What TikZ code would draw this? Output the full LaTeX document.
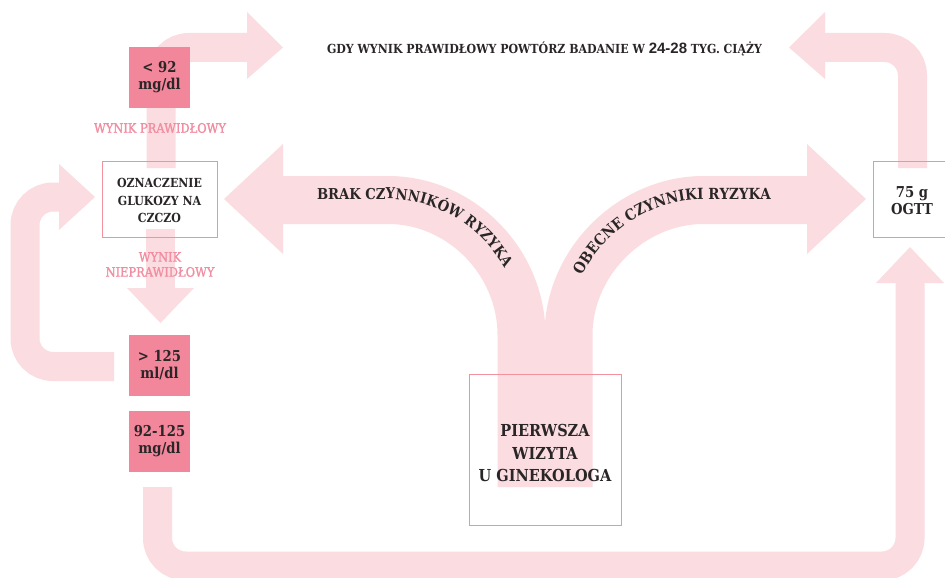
\documentclass[tikz,border=0pt]{standalone}
\usepackage{fontspec}
\setmainfont{DejaVu Serif}[FakeStretch=0.88]
\newfontfamily\semifont{DejaVu Serif}[FakeStretch=0.88,FakeBold=1.2]
\newfontfamily\numfont{Liberation Sans}
\usetikzlibrary{decorations.text}
\definecolor{arrowpink}{HTML}{FBDDE1}
\definecolor{boxpink}{HTML}{F2879C}
\definecolor{linepink}{HTML}{F4919F}
\definecolor{labelpink}{HTML}{F28CA0}
\definecolor{darktext}{HTML}{2A2627}
\begin{document}
\begin{tikzpicture}[x=1pt,y=-1pt,
  thickbar/.style={draw=arrowpink,line width=29pt,rounded corners=28pt},
  bighead/.style={fill=arrowpink},
  widebar/.style={draw=arrowpink,line width=48pt},
  valbox/.style={fill=boxpink,minimum width=61pt,minimum height=61pt,inner sep=0pt,align=center,text=darktext,font=\fontsize{15}{17}\selectfont\bfseries},
  framebox/.style={draw=linepink,line width=1pt,inner sep=0pt,align=center,text=darktext},
  boxtext/.style={inner sep=0pt,align=center,text=darktext},
  pinklabel/.style={text=labelpink,align=center,inner sep=0pt,font=\semifont\fontsize{13}{15}\selectfont},
  curvetext/.style={decorate,decoration={text along path,text color=darktext,raise=1pt}}
]
\fill[white] (0,0) rectangle (945,578);
\useasboundingbox (0,0) rectangle (945,578);

% coordinates
\coordinate (a1s) at (161,168);   \coordinate (a1c) at (161,47.5);  \coordinate (a1e) at (248,47.5);
\coordinate (a2s) at (160.5,229); \coordinate (a2e) at (160.5,289);
\coordinate (a3s) at (114,366.5); \coordinate (a3c1) at (25,366.5); \coordinate (a3c2) at (25,197); \coordinate (a3e) at (60,197);
\coordinate (a4s) at (157.5,487); \coordinate (a4c1) at (157.5,566); \coordinate (a4c2) at (910,566); \coordinate (a4e) at (910,282);
\coordinate (a5s) at (912.5,168); \coordinate (a5c) at (912.5,47.5); \coordinate (a5e) at (824,47.5);

% thin arrows
\draw[thickbar] (a1s) -- (a1c) -- (a1e);
\fill[bighead] (247,12) -- (283,47.5) -- (247,79) -- cycle;
\draw[thickbar] (a2s) -- (a2e);
\fill[bighead] (127,288) -- (160.5,323) -- (194,288) -- cycle;
\draw[thickbar] (a3s) -- (a3c1) -- (a3c2) -- (a3e);
\fill[bighead] (59,164) -- (95,197) -- (59,230) -- cycle;
\draw[thickbar] (a4s) -- (a4c1) -- (a4c2) -- (a4e);
\fill[bighead] (876,283) -- (910,247) -- (944,283) -- cycle;
\draw[thickbar] (a5s) -- (a5c) -- (a5e);
\fill[bighead] (825,12) -- (789,47.5) -- (825,79) -- cycle;

% wide curved arrows
\draw[widebar] (521.5,487) -- (521.5,335) .. controls (521.5,262) and (461,200) .. (388,200) -- (282,200);
\fill[bighead] (283,144) -- (224,199) -- (283,254) -- cycle;
\draw[widebar] (568.5,487) -- (568.5,335) .. controls (568.5,262) and (631.5,200) .. (703.5,200) -- (808,200);
\fill[bighead] (807,144) -- (866,199) -- (807,254) -- cycle;

\path[curvetext,decoration={text={|\fontsize{15}{15}\selectfont\bfseries|BRAK CZYNNIKÓW RYZYKA},text align=left}]
  (317,200) -- (388,200) .. controls (461,200) and (521.5,262) .. (521.5,335);
\path[curvetext,decoration={text={|\fontsize{15.3}{15}\selectfont\bfseries|OBECNE CZYNNIKI RYZYKA},text align={left indent=61pt}}]
  (568.5,335) .. controls (568.5,262) and (631.5,200) .. (703.5,200) -- (807,200);

% boxes
\node[framebox,minimum width=115pt,minimum height=76pt] (ozn) at (159.5,199) {};
\node[boxtext,font=\fontsize{12.5}{17.5}\selectfont\bfseries] (ozntext) at (159.5,200.5) {OZNACZENIE\\GLUKOZY NA\\CZCZO};
\node[valbox] (lt92) at (159.5,77.5) {< 92\\mg/dl};
\node[valbox] (gt125) at (159.5,365.5) {> 125\\ml/dl};
\node[valbox] (r92) at (159.5,441.5) {92-125\\mg/dl};
\node[framebox,minimum width=78pt,minimum height=76pt] (ogtt) at (912,199) {};
\node[boxtext,font=\fontsize{15}{16.5}\selectfont\bfseries] (ogtttext) at (912,200.5) {75 g\\OGTT};
\node[framebox,minimum width=152pt,minimum height=151pt] (wiz) at (545,449.5) {};
\node[boxtext,font=\fontsize{16.5}{22.5}\selectfont\bfseries] (wiztext) at (545,453) {PIERWSZA\\WIZYTA\\U GINEKOLOGA};

% labels
\node[pinklabel] (ok) at (160,128) {WYNIK PRAWIDŁOWY};
\node[pinklabel] (bad) at (160,264.5) {WYNIK\\NIEPRAWIDŁOWY};
\node[text=darktext,inner sep=0pt,font=\fontsize{12.5}{14}\selectfont\bfseries] (top) at (544.5,49)
  {GDY WYNIK PRAWIDŁOWY POWTÓRZ BADANIE W {\numfont\fontsize{15}{15}\selectfont 24-28} TYG. CIĄŻY};
\end{tikzpicture}
\end{document}
